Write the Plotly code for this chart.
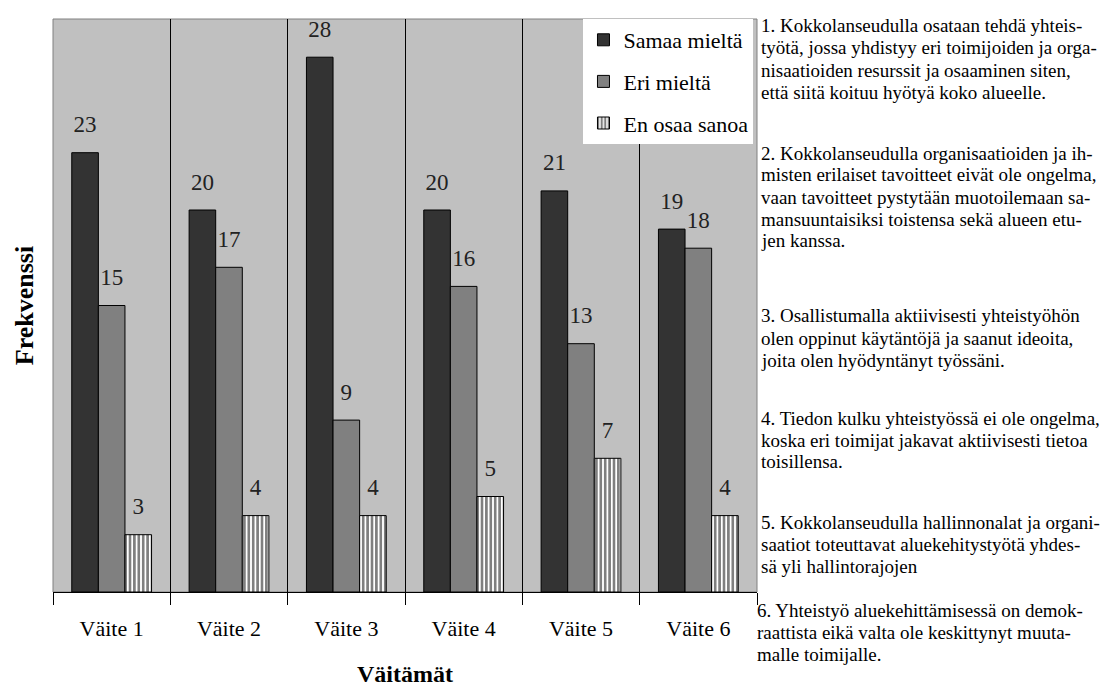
import plotly.graph_objects as go

# ---------------- data ----------------
categories = ["Väite 1", "Väite 2", "Väite 3", "Väite 4", "Väite 5", "Väite 6"]
samaa_mielta = [23, 20, 28, 20, 21, 19]
eri_mielta = [15, 17, 9, 16, 13, 18]
en_osaa_sanoa = [3, 4, 4, 5, 7, 4]
series_names = ["Samaa mieltä", "Eri mieltä", "En osaa sanoa"]

y_title = "Frekvenssi"
x_title = "Väitämät"

statement_lines = [
    ["1. Kokkolanseudulla osataan tehdä yhteis-",
     "työtä, jossa yhdistyy eri toimijoiden ja orga-",
     "nisaatioiden resurssit ja osaaminen siten,",
     "että siitä koituu hyötyä koko alueelle."],
    ["2. Kokkolanseudulla organisaatioiden ja ih-",
     "misten erilaiset tavoitteet eivät ole ongelma,",
     "vaan tavoitteet pystytään muotoilemaan sa-",
     "mansuuntaisiksi toistensa sekä alueen etu-",
     "jen kanssa."],
    ["3. Osallistumalla aktiivisesti yhteistyöhön",
     "olen oppinut käytäntöjä ja saanut ideoita,",
     "joita olen hyödyntänyt työssäni."],
    ["4. Tiedon kulku yhteistyössä ei ole ongelma,",
     "koska eri toimijat jakavat aktiivisesti tietoa",
     "toisillensa."],
    ["5. Kokkolanseudulla hallinnonalat ja organi-",
     "saatiot toteuttavat aluekehitystyötä yhdes-",
     "sä yli hallintorajojen"],
    ["6. Yhteistyö aluekehittämisessä on demok-",
     "raattista eikä valta ole keskittynyt muuta-",
     "malle toimijalle."],
]

# ---------------- layout constants ----------------
W, H = 1115, 691
ML, MR, MT, MB = 45, 366, 11, 107
PW, PH = W - ML - MR, H - MT - MB
SERIF = "Liberation Serif"

paragraph_top_px = [18, 145, 308, 410, 514, 602]
paragraph_x_px = [751, 751, 751, 751, 751, 747]
line_step_px = 22

series_values = [samaa_mielta, eri_mielta, en_osaa_sanoa]
fill_colors = ["#333333", "#808080", "white"]

fig = go.Figure()

for i, (name, vals) in enumerate(zip(series_names, series_values)):
    marker = dict(color=fill_colors[i], line=dict(color="black", width=1))
    if i == 2:
        marker["pattern"] = dict(shape="|", fgcolor="black", bgcolor="white",
                                 size=4.4, solidity=0.6)
    fig.add_trace(go.Bar(
        x=categories, y=vals, name=name, marker=marker,
        legendgroup=f"g{i}", offsetgroup=f"o{i}", alignmentgroup="a",
    ))

for i, vals in enumerate(series_values):
    fig.add_trace(go.Scatter(
        x=categories, y=vals, mode="markers+text", text=[str(v) for v in vals],
        textposition="top center",
        textfont=dict(family=SERIF, size=23, color="#222222"),
        marker=dict(size=22, color="rgba(0,0,0,0)"),
        offsetgroup=f"o{i}", alignmentgroup="a",
        showlegend=False, hoverinfo="skip", cliponaxis=False,
    ))

annotations = []
for p, lines in enumerate(statement_lines):
    for j, line in enumerate(lines):
        ypx = paragraph_top_px[p] + j * line_step_px
        annotations.append(dict(
            text=line, xref="paper", yref="paper",
            x=(paragraph_x_px[p] - ML) / PW, y=(H - MB - ypx) / PH,
            xanchor="left", yanchor="middle", showarrow=False,
            font=dict(family=SERIF, size=19, color="black"),
        ))

fig.update_layout(
    width=W, height=H,
    margin=dict(l=ML, r=MR, t=MT, b=MB, autoexpand=False),
    paper_bgcolor="white", plot_bgcolor="#c0c0c0",
    barmode="group", bargap=0.32, bargroupgap=0,
    scattermode="group", scattergap=0.32,
    font=dict(family=SERIF, color="black"),
    showlegend=True,
    legend=dict(
        x=0.995, xanchor="right", y=1, yanchor="top",
        bgcolor="white", borderwidth=0,
        font=dict(family=SERIF, size=22, color="black"),
        traceorder="grouped", tracegroupgap=10,
    ),
    xaxis=dict(
        type="category", tickson="boundaries", ticks="outside", ticklen=12,
        tickcolor="black", tickwidth=1,
        showgrid=True, gridcolor="black", gridwidth=1,
        showline=True, linecolor="black", linewidth=1,
        tickfont=dict(family=SERIF, size=22, color="black"),
        ticklabelstandoff=17,
        title=dict(text=x_title, standoff=24,
                   font=dict(family=SERIF, size=24, color="black", weight="bold")),
        automargin=False, fixedrange=True,
    ),
    yaxis=dict(
        range=[0, 30], showticklabels=False, showgrid=False, zeroline=False,
        ticks="", showline=False,
        title=dict(text=y_title, standoff=10,
                   font=dict(family=SERIF, size=26, color="black", weight="bold")),
        automargin=False, fixedrange=True,
    ),
    shapes=[dict(type="rect", xref="paper", yref="paper", x0=0, x1=1, y0=0, y1=1,
                 line=dict(color="#808080", width=1), layer="below")],
    annotations=annotations,
)

fig.write_html("out.html")
